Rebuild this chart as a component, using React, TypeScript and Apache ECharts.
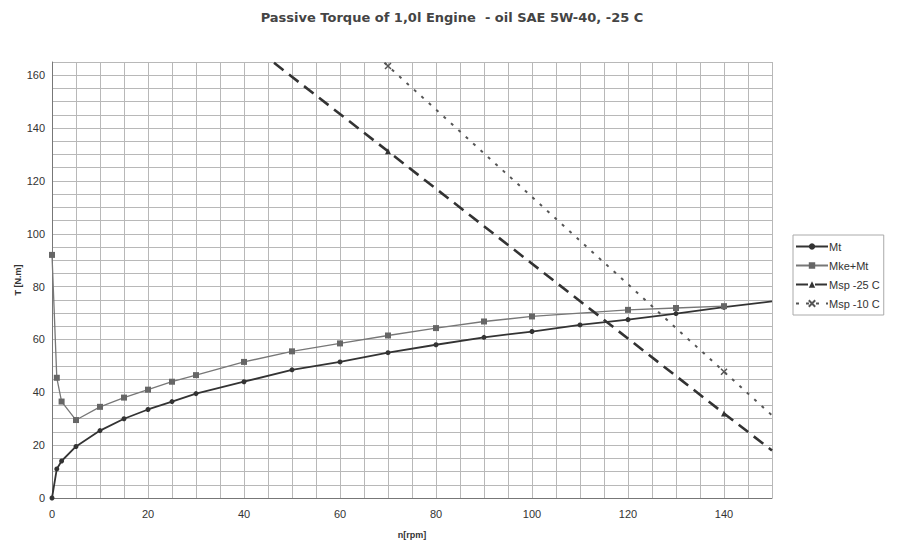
import React, { useEffect, useRef } from "react";
import * as echarts from "echarts";

const TITLE = "Passive Torque of 1,0l Engine  - oil SAE 5W-40, -25 C";

const mtRpm = [0, 1, 2, 5, 10, 15, 20, 25, 30, 40, 50, 60, 70, 80, 90, 100, 110, 120, 130, 140, 150];
const mtVal = [0, 11, 14, 19.5, 25.5, 30, 33.5, 36.5, 39.5, 44, 48.5, 51.5, 55, 58, 60.8, 63, 65.5, 67.5, 69.8, 72.2, 74.4];

const mkeRpm = [0, 1, 2, 5, 10, 15, 20, 25, 30, 40, 50, 60, 70, 80, 90, 100, 120, 130, 140];
const mkeVal = [92, 45.5, 36.5, 29.5, 34.5, 38, 41, 44, 46.5, 51.5, 55.5, 58.5, 61.5, 64.3, 66.8, 68.7, 71.2, 71.9, 72.6];

const msp25Rpm = [40, 70, 140, 150];
const msp25Val = [173.5, 131.2, 32, 18];

const msp10Rpm = [60, 70, 140, 150];
const msp10Val = [180, 163.5, 47.8, 31.3];

const FONT = "Liberation Sans, Arial, sans-serif";

function pts(xs: number[], ys: number[], endsPlain: boolean) {
  return xs.map((x, i) => {
    const item: any = { value: [x, ys[i]] };
    if (endsPlain && (i === 0 || i === xs.length - 1)) item.symbol = "none";
    return item;
  });
}

export default function App() {
  const ref = useRef<HTMLDivElement>(null);
  useEffect(() => {
    if (!ref.current) return;
    const chart = echarts.init(ref.current, undefined, { renderer: "svg" });
    const gridLine = { show: true, lineStyle: { color: "#b8b8b8", width: 1 } };
    chart.setOption({
      animation: false,
      backgroundColor: "#ffffff",
      title: {
        text: TITLE,
        left: 447,
        textAlign: "center",
        top: 6,
        textStyle: { fontFamily: "DejaVu Sans, sans-serif", fontSize: 13, fontWeight: "bold", color: "#444" },
      },
      grid: { left: 52, right: 130, top: 62, bottom: 46 },
      legend: {
        orient: "vertical",
        left: 793,
        top: 235,
        itemWidth: 32,
        itemHeight: 8,
        itemGap: 8,
        padding: [6, 4, 6, 2],
        borderColor: "#aaa",
        borderWidth: 1,
        textStyle: { fontFamily: FONT, fontSize: 11, color: "#333", padding: [0, 0, 0, -4] },
        data: ["Mt", "Mke+Mt", "Msp -25 C", "Msp -10 C"],
      },
      xAxis: {
        type: "value",
        min: 0,
        max: 150,
        interval: 5,
        name: "n[rpm]",
        nameLocation: "middle",
        nameGap: 32,
        nameTextStyle: { fontFamily: FONT, fontSize: 9, fontWeight: "bold", color: "#333" },
        axisLine: { show: true, lineStyle: { color: "#777" } },
        axisTick: { show: false },
        axisLabel: {
          fontFamily: FONT,
          fontSize: 11,
          color: "#333",
          margin: 10,
          formatter: (v: number) => (v % 20 === 0 ? String(v) : ""),
        },
        splitLine: gridLine,
      },
      yAxis: {
        type: "value",
        min: 0,
        max: 165,
        interval: 5,
        name: "T [N.m]",
        nameLocation: "middle",
        nameGap: 30,
        nameMoveOverlap: false,
        nameTextStyle: { fontFamily: FONT, fontSize: 9, fontWeight: "bold", color: "#333" },
        axisLine: { show: true, lineStyle: { color: "#777" } },
        axisTick: { show: false },
        axisLabel: {
          fontFamily: FONT,
          fontSize: 11,
          color: "#333",
          margin: 7,
          formatter: (v: number) => (v % 20 === 0 ? String(v) : ""),
        },
        splitLine: gridLine,
      },
      series: [
        {
          name: "Mt",
          type: "line",
          data: pts(mtRpm, mtVal, false).map((d, i) =>
            i === mtRpm.length - 1 ? { ...d, symbol: "none" } : d
          ),
          symbol: "circle",
          symbolSize: 5,
          itemStyle: { color: "#333" },
          lineStyle: { color: "#333", width: 1.8 },
        },
        {
          name: "Mke+Mt",
          type: "line",
          data: pts(mkeRpm, mkeVal, false),
          symbol: "rect",
          symbolSize: 6,
          itemStyle: { color: "#666" },
          lineStyle: { color: "#777", width: 1.3 },
        },
        {
          name: "Msp -25 C",
          type: "line",
          data: pts(msp25Rpm, msp25Val, true),
          symbol: "triangle",
          symbolSize: 6,
          itemStyle: { color: "#333" },
          lineStyle: { color: "#333", width: 2.6, type: [12, 7] },
        },
        {
          name: "Msp -10 C",
          type: "line",
          data: pts(msp10Rpm, msp10Val, true),
          symbol: "path://M0,0L10,10M10,0L0,10",
          symbolSize: 6,
          itemStyle: { color: "#555", borderColor: "#555", borderWidth: 1.5 },
          lineStyle: { color: "#555", width: 2, type: [3, 7] },
        },
      ],
    });
    return () => chart.dispose();
  }, []);
  return <div ref={ref} style={{ width: 902, height: 544, position: "absolute", left: 0, top: 0 }} />;
}
